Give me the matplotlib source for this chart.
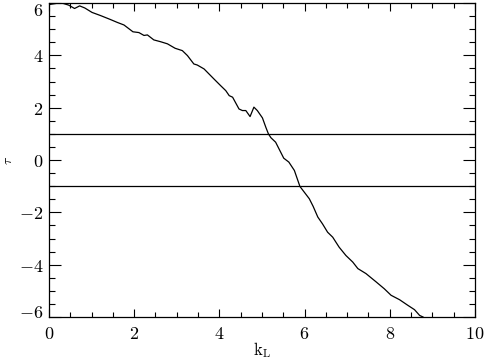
import matplotlib
matplotlib.use("Agg")
import matplotlib.pyplot as plt
import matplotlib.transforms as mtransforms
from matplotlib.ticker import MultipleLocator, FuncFormatter

plt.rcParams['mathtext.fontset'] = 'cm'

# curve
kL = [0.0, 0.23, 0.34, 0.46, 0.60, 0.72, 0.84, 1.01, 1.21, 1.44, 1.60, 1.76,
      1.97, 2.11, 2.23, 2.31, 2.46, 2.62, 2.78, 2.96, 3.13, 3.25, 3.40, 3.48,
      3.64, 3.87, 4.03, 4.15, 4.23, 4.31, 4.46, 4.54, 4.62, 4.72, 4.81, 4.89,
      5.01, 5.09, 5.15, 5.21, 5.32, 5.51, 5.63, 5.76, 5.89, 5.96, 6.11, 6.20,
      6.31, 6.42, 6.54, 6.66, 6.81, 6.97, 7.13, 7.25, 7.44, 7.68, 7.87, 8.03,
      8.23, 8.42, 8.58, 8.70, 8.78, 8.90]
tau = [5.94, 6.00, 5.98, 5.92, 5.79, 5.89, 5.81, 5.64, 5.52, 5.37, 5.26, 5.16,
       4.90, 4.87, 4.76, 4.78, 4.59, 4.52, 4.44, 4.27, 4.18, 3.99, 3.67, 3.63,
       3.48, 3.10, 2.84, 2.65, 2.46, 2.40, 1.95, 1.89, 1.89, 1.66, 2.02, 1.89,
       1.61, 1.25, 1.00, 0.85, 0.68, 0.07, -0.08, -0.40, -1.01, -1.16, -1.48, -1.77,
       -2.18, -2.44, -2.76, -2.95, -3.33, -3.65, -3.90, -4.15, -4.34, -4.66, -4.92, -5.17,
       -5.34, -5.55, -5.72, -5.94, -6.00, -6.15]
levels = [1, -1]

fig = plt.figure(figsize=(4.85, 3.62), dpi=100)
ax = fig.add_axes([49 / 485, 45 / 362, 426 / 485, 314 / 362])

ax.plot(kL, tau, color='black', lw=0.9)
for lv in levels:
    ax.axhline(lv, color='black', lw=0.9)

ax.set_xlim(0, 10)
ax.set_ylim(-6, 6)

ax.xaxis.set_major_locator(MultipleLocator(2))
ax.xaxis.set_minor_locator(MultipleLocator(0.5))
ax.yaxis.set_major_locator(MultipleLocator(2))
ax.yaxis.set_minor_locator(MultipleLocator(0.5))

fmt = FuncFormatter(lambda v, p: r'$%d$' % round(v))
ax.xaxis.set_major_formatter(fmt)
ax.yaxis.set_major_formatter(fmt)

ax.tick_params(axis='both', which='both', direction='in', top=True, right=True,
               width=0.8, labelsize=13)
ax.tick_params(axis='x', which='major', length=6, pad=6)
ax.tick_params(axis='x', which='minor', length=3.5)
ax.tick_params(axis='y', which='major', length=8.5, pad=4)
ax.tick_params(axis='y', which='minor', length=4.5)
for s in ax.spines.values():
    s.set_linewidth(0.9)

ax.set_xlabel(r'$\mathrm{k_L}$', fontsize=12)
ax.xaxis.set_label_coords(0.5, -0.075)
ax.set_ylabel(r'$\tau$', fontsize=10)
ax.yaxis.set_label_coords(-0.08, 0.5)

# nudge the end labels inward like the original
fig.canvas.draw()
for t in ax.yaxis.get_major_ticks():
    loc = t.get_loc()
    if abs(loc - 6) < 1e-6:
        dy = -4 / 72
    elif abs(loc + 6) < 1e-6:
        dy = 4 / 72
    else:
        continue
    off = mtransforms.ScaledTranslation(0, dy, fig.dpi_scale_trans)
    t.label1.set_transform(t.label1.get_transform() + off)

fig.savefig('out.png', dpi=100)
